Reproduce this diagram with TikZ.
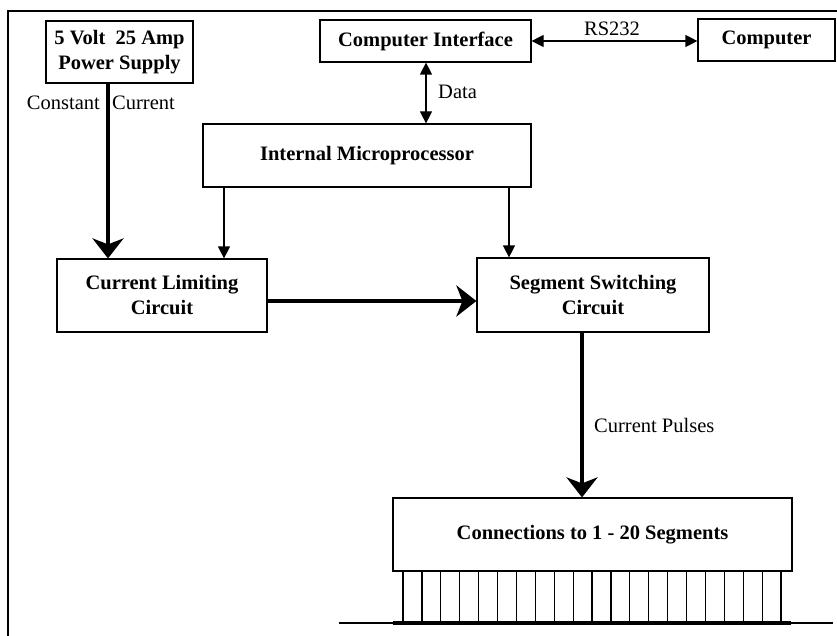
\documentclass[tikz,border=0pt]{standalone}
\usepackage{fontspec}
\setmainfont{Liberation Serif}
\usetikzlibrary{arrows.meta}
\begin{document}
\begin{tikzpicture}[x=1pt,y=-1pt,
  box/.style={draw, line width=1.2pt, inner sep=0pt, align=center,
    font=\fontsize{20.5}{25}\selectfont\bfseries},
  lbl/.style={inner sep=0pt, font=\fontsize{20.5}{25}\selectfont},
  thin arrow/.style={line width=1.2pt, -{Triangle[length=12pt,width=12pt]}},
  both arrow/.style={line width=1.2pt, {Triangle[length=12pt,width=12pt]}-{Triangle[length=12pt,width=12pt]}},
  thick arrow/.style={line width=4pt, -{Stealth[length=20pt,width=31pt,inset=6pt]}}]
\useasboundingbox (0,0) rectangle (837,636);
% frame
\draw[line width=1.5pt] (8,636) -- (8,11) -- (837,11);
% boxes
\node[box, minimum width=147pt, minimum height=62pt] (ps) at (119.5,52) {5 Volt\ \ 25 Amp\\Power Supply};
\node[box, minimum width=211pt, minimum height=42pt] (ci) at (425.5,41) {Computer Interface};
\node[box, minimum width=137pt, minimum height=42pt] (pc) at (766.5,40) {Computer};
\node[box, minimum width=328pt, minimum height=63pt] (mp) at (367,155.5) {Internal Microprocessor};
\node[box, minimum width=210pt, minimum height=73pt] (cl) at (162,295.5) {Current Limiting\\Circuit};
\node[box, minimum width=232pt, minimum height=74pt] (ss) at (593,295) {Segment Switching\\Circuit};
\node[box, minimum width=399pt, minimum height=73pt] (cn) at (592.5,534.5) {Connections to 1 - 20 Segments};
% connectors
\draw[thick arrow] (ps.south -| 108,0) -- (cl.north -| 108,0);
\draw[thin arrow] (mp.south -| 224,0) -- (cl.north -| 224,0);
\draw[thin arrow] (mp.south -| 509,0) -- (ss.north -| 509,0);
\draw[both arrow] (ci.south -| 426,0) -- (mp.north -| 426,0);
\draw[both arrow] (ci.east) -- (pc.west |- ci.east);
\draw[thick arrow] (cl.east |- 0,301) -- (ss.west |- 0,301);
\draw[thick arrow] (ss.south -| 582,0) -- (cn.north -| 582,0);
% labels
\node[lbl, anchor=east] (lc1) at (100,103) {Constant};
\node[lbl, anchor=west] (lc2) at (112,103) {Current};
\node[lbl] (lrs) at (612,29) {RS232};
\node[lbl, anchor=west] (ld) at (438,92) {Data};
\node[lbl, anchor=west] (lp) at (594,425) {Current Pulses};
% segment connections
\coordinate (bl) at (339,623);
\coordinate (br) at (833,623);
\coordinate (tl) at (393,623);
\coordinate (tr) at (791,623);
\draw[line width=1.2pt] (bl) -- (br);
\draw[line width=4pt] (tl) -- (tr);
\foreach \i in {0,...,20} {
  \pgfmathsetmacro{\xx}{403+18.9*\i}
  \draw[line width=1.2pt] (\xx,571) -- (\xx,623);
}
\end{tikzpicture}
\end{document}
